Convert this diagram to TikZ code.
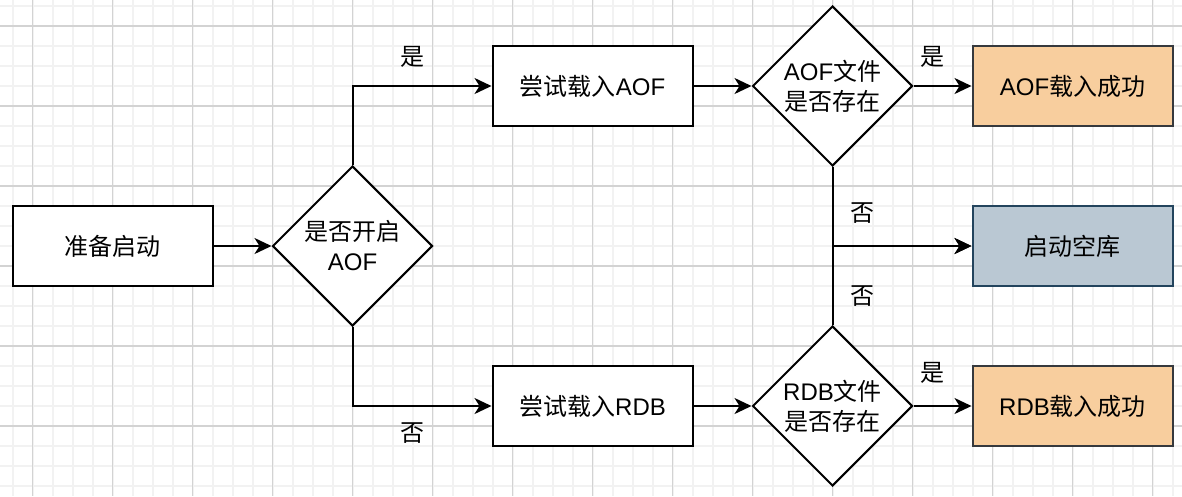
\documentclass[tikz,border=0pt]{standalone}
\usepackage{fontspec}
\setmainfont{Liberation Sans}
\newfontfamily\cjk{Noto Sans CJK SC}
\usetikzlibrary{arrows.meta,shapes.geometric}
\definecolor{minorgrid}{HTML}{F2F2F2}
\definecolor{majorgrid}{HTML}{D3D3D3}
\definecolor{peach}{HTML}{F8CE9E}
\definecolor{peachline}{HTML}{36393D}
\definecolor{slate}{HTML}{BAC8D3}
\definecolor{slateline}{HTML}{23445D}
\begin{document}
\begin{tikzpicture}[x=1pt,y=-1pt,
  every node/.style={font=\fontsize{24}{30}\selectfont, align=center},
  procbox/.style={draw=black, line width=2pt, fill=white, minimum width=200pt, minimum height=80pt, inner sep=0pt},
  okbox/.style={procbox, fill=peach, draw=peachline},
  emptybox/.style={procbox, fill=slate, draw=slateline},
  decision/.style={draw=black, line width=2pt, fill=white, diamond, shape aspect=1, minimum width=160pt, minimum height=160pt, inner sep=0pt},
  conn/.style={line width=2pt, -{Stealth[length=17pt, width=16pt, inset=5pt]}},
  lbl/.style={inner sep=0pt}
]
\useasboundingbox (0,0) rectangle (1182,496);
\fill[white] (0,0) rectangle (1182,496);
% grid
\foreach \gx in {12.5,32.5,...,1182} \draw[minorgrid, line width=2pt] (\gx,0) -- (\gx,496);
\foreach \gy in {6,26,...,496} \draw[minorgrid, line width=2pt] (0,\gy) -- (1182,\gy);
\foreach \gx in {32.5,112.5,...,1182} \draw[majorgrid, line width=1.2pt] (\gx,0) -- (\gx,496);
\foreach \gy in {26,106,...,496} \draw[majorgrid, line width=1.2pt] (0,\gy) -- (1182,\gy);

% nodes
\node[procbox] (start) at (112.5,246) {{\cjk 准备启动}};
\node[decision] (d1) at (352.5,246) {{\cjk 是否开启}\\AOF};
\node[procbox] (aof) at (592.5,86) {{\cjk 尝试载入}AOF};
\node[procbox] (rdb) at (592.5,406) {{\cjk 尝试载入}RDB};
\node[decision] (daof) at (832.5,86) {AOF{\cjk 文件}\\{\cjk 是否存在}};
\node[decision] (drdb) at (832.5,406) {RDB{\cjk 文件}\\{\cjk 是否存在}};
\node[okbox] (aofok) at (1072.5,86) {AOF{\cjk 载入成功}};
\node[emptybox] (empty) at (1072.5,246) {{\cjk 启动空库}};
\node[okbox] (rdbok) at (1072.5,406) {RDB{\cjk 载入成功}};

% connectors
\draw[conn] (start.east) -- (d1.west);
\draw[conn] (d1.north) |- (aof.west);
\draw[conn] (d1.south) |- (rdb.west);
\draw[conn] (aof.east) -- (daof.west);
\draw[conn] (rdb.east) -- (drdb.west);
\draw[conn] (daof.east) -- (aofok.west);
\draw[conn] (drdb.east) -- (rdbok.west);
\draw[conn] (daof.south) |- (empty.west);
\draw[conn] (drdb.north) |- (empty.west);

% labels
\node[lbl] (l1) at (412,57) {\cjk 是};
\node[lbl] (l2) at (412,433) {\cjk 否};
\node[lbl] (l3) at (932,57) {\cjk 是};
\node[lbl] (l4) at (862,213) {\cjk 否};
\node[lbl] (l5) at (862,296) {\cjk 否};
\node[lbl] (l6) at (932,373) {\cjk 是};
\end{tikzpicture}
\end{document}
